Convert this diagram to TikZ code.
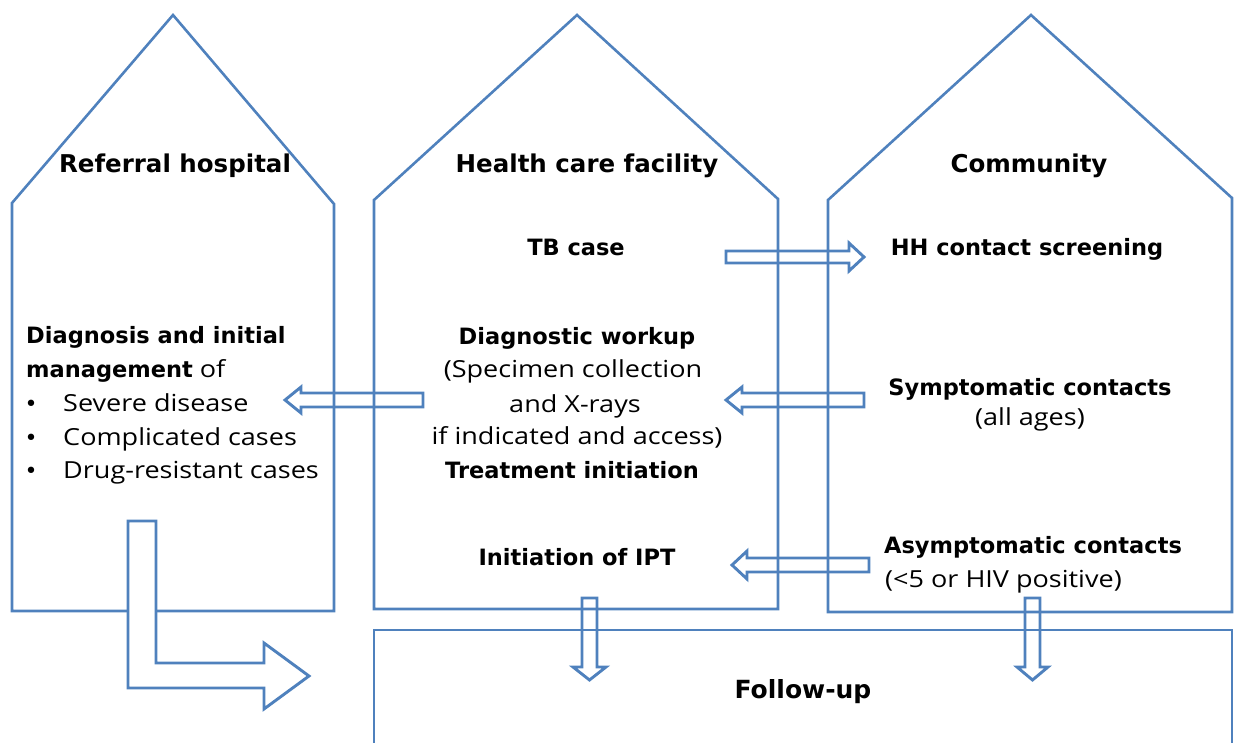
\documentclass[tikz,border=0pt]{standalone}
\usepackage{fontspec}
\setmainfont{Open Sans}
\newfontfamily\bfnt{DejaVu Sans}
\newfontfamily\regfnt{Open Sans}[FakeStretch=1.15]
\definecolor{lineblue}{RGB}{79,129,189}
\begin{document}
\begin{tikzpicture}[x=1pt,y=-1pt,
  shp/.style={draw=lineblue,line width=2.6pt,line join=miter},
  blk/.style={draw=lineblue,line width=2.9pt,fill=white,line join=miter},
  ttl/.style={font=\fontsize{24.5}{30}\bfnt\bfseries,anchor=base,inner sep=0},
  bld/.style={font=\fontsize{22.5}{30}\bfnt\bfseries,anchor=base,inner sep=0},
  reg/.style={font=\fontsize{23.5}{30}\regfnt,anchor=base,inner sep=0},
  bul/.style={font=\fontsize{22}{30}\bfnt,anchor=base,inner sep=0}]
\useasboundingbox (0,0) rectangle (1234,742);
% block arrows (behind the houses)
\draw[blk] (726,251) -- (849,251) -- (849,243) -- (864,257) -- (849,271) -- (849,263) -- (726,263) -- cycle;
\draw[blk] (864,393) -- (742,393) -- (742,387) -- (726,400) -- (742,413) -- (742,407) -- (864,407) -- cycle;
\draw[blk] (869,558) -- (747,558) -- (747,551) -- (732,565) -- (747,579) -- (747,572) -- (869,572) -- cycle;
\draw[blk] (423,393) -- (301,393) -- (301,387) -- (285,400) -- (301,413) -- (301,407) -- (423,407) -- cycle;
\draw[blk] (582,598) -- (597,598) -- (597,667) -- (606,667) -- (589.5,680) -- (573,667) -- (582,667) -- cycle;
\draw[blk] (1025,598) -- (1040,598) -- (1040,667) -- (1048,667) -- (1032.5,680) -- (1017,667) -- (1025,667) -- cycle;
% houses
\coordinate (h1a) at (173,15);
\draw[shp] (12,611) -- (12,203) -- (h1a) -- (334,204) -- (334,611) -- cycle;
\coordinate (h2a) at (577,15);
\draw[shp] (374,609) -- (374,200) -- (h2a) -- (778,199) -- (778,609) -- cycle;
\coordinate (h3a) at (1031,15);
\draw[shp] (828,612) -- (828,200) -- (h3a) -- (1232,198) -- (1232,612) -- cycle;
% follow-up box
\draw[shp] (374,745) -- (374,630) -- (1232,630) -- (1232,745);
% L arrow
\draw[blk] (128,521) -- (156,521) -- (156,663) -- (264,663) -- (264,643) -- (309,676) -- (264,709) -- (264,688) -- (128,688) -- cycle;
% titles
\node[ttl] (t1) at (175,172) {Referral hospital};
\node[ttl] (t2) at (587,172) {Health care facility};
\node[ttl] (t3) at (1029,172) {Community};
% referral text
\node[bld,anchor=base west] (r1) at (26,343) {Diagnosis and initial};
\node[anchor=base west,inner sep=0] (r2) at (26,377) {\fontsize{22.5}{30}\bfnt\bfseries management\regfnt\mdseries\fontsize{23.5}{30}\selectfont{} of};
\node[bul] (b1) at (31,411) {•};
\node[reg,anchor=base west] (r3) at (63,411) {Severe disease};
\node[bul] (b2) at (31,445) {•};
\node[reg,anchor=base west] (r4) at (63,445) {Complicated cases};
\node[bul] (b3) at (31,478) {•};
\node[reg,anchor=base west] (r5) at (63,478) {Drug-resistant cases};
% facility text
\node[bld] (f1) at (576,255) {TB case};
\node[bld] (f2) at (577,344) {Diagnostic workup};
\node[reg] (f3) at (573,377) {(Specimen collection};
\node[reg] (f4) at (575,412) {and X-rays};
\node[reg] (f5) at (577,444) {if indicated and access)};
\node[bld] (f6) at (572,478) {Treatment initiation};
\node[bld] (f7) at (577,565) {Initiation of IPT};
% community text
\node[bld] (c1) at (1027,255) {HH contact screening};
\node[bld] (c2) at (1030,395) {Symptomatic contacts};
\node[reg] (c3) at (1030,425) {(all ages)};
\node[bld] (c4) at (1033,553) {Asymptomatic contacts};
\node[reg,anchor=base west] (c5) at (885,587) {(<5 or HIV positive)};
% follow-up
\node[anchor=base,inner sep=0,font=\fontsize{25}{30}\bfnt\bfseries] (fu) at (803,698) {Follow-up};
\end{tikzpicture}
\end{document}
